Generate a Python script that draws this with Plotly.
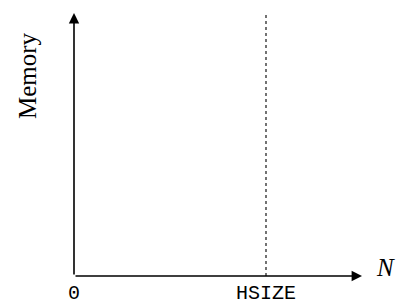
import plotly.graph_objects as go

# ---- data ----
x_tick_values = [0, 1]
x_tick_labels = ["0", "HSIZE"]
hsize = 1.0
x_axis_end = 1.5
y_axis_end = 1.0
x_title = "N"
y_title = "Memory"

W, H = 396, 302
# pixel layout
px0, px1 = 74, 266          # pixel of x=0 and x=hsize
py0, py1 = 276, 13          # pixel of y=0 and y=y_axis_end
sx = (px1 - px0) / (hsize - 0)
sy = (py0 - py1) / (y_axis_end - 0)
xr = [-px0 / sx, (W - px0) / sx]
yr = [-(H - py0) / sy, py0 / sy]

fig = go.Figure()

# dotted HSIZE line
fig.add_trace(go.Scatter(
    x=[hsize, hsize], y=[0, y_axis_end], mode="lines",
    line=dict(color="black", width=1.1, dash="3px,3px"),
    hoverinfo="skip", showlegend=False))

ann = []
# axis arrows
ann.append(dict(x=x_axis_end, y=0, ax=0, ay=0, xref="x", yref="y", axref="x", ayref="y",
                showarrow=True, arrowhead=2, arrowsize=1.3, arrowwidth=1.6, arrowcolor="black",
                standoff=0, text=""))
ann.append(dict(x=0, y=y_axis_end, ax=0, ay=0, xref="x", yref="y", axref="x", ayref="y",
                showarrow=True, arrowhead=2, arrowsize=1.3, arrowwidth=1.6, arrowcolor="black",
                standoff=0, text=""))

# tick labels
for v, t in zip(x_tick_values, x_tick_labels):
    ann.append(dict(x=v, y=0, xref="x", yref="y", text=t, showarrow=False,
                    xanchor="center", yanchor="middle", yshift=-17,
                    font=dict(family="Liberation Mono, Courier New, monospace", size=20, color="black")))

# axis titles
ann.append(dict(x=(385 - px0) / sx, y=(py0 - 267) / sy, xref="x", yref="y",
                text="<i>" + x_title + "</i>", showarrow=False, xanchor="center", yanchor="middle",
                font=dict(family="Liberation Serif, Times New Roman, serif", size=25, color="black")))
ann.append(dict(x=(27 - px0) / sx, y=(py0 - 76) / sy, xref="x", yref="y",
                text=y_title, showarrow=False, textangle=-90, xanchor="center", yanchor="middle",
                font=dict(family="Liberation Serif, Times New Roman, serif", size=25, color="black")))

fig.update_layout(
    width=W, height=H, margin=dict(l=0, r=0, t=0, b=0),
    paper_bgcolor="white", plot_bgcolor="white",
    xaxis=dict(range=xr, visible=False, fixedrange=True),
    yaxis=dict(range=yr, visible=False, fixedrange=True),
    annotations=ann, showlegend=False)

fig.write_html("out.html",
               config={"displayModeBar": False, "staticPlot": True},
               post_script="document.body.style.margin='0';document.body.style.overflow='hidden';")
